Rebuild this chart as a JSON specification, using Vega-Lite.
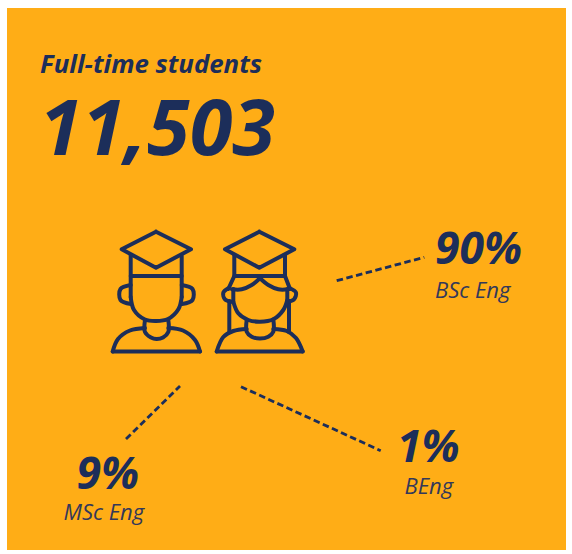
{
"$schema":"https://vega.github.io/schema/vega-lite/v6.json",
"width":572,"height":554,"padding":0,
"autosize":{"type":"fit","contains":"padding"},
"background":"#ffffff",
"config":{"view":{"stroke":null}},
"datasets":{
"panel":[{"x0":7,"x1":566,"y0":8,"y1":550}],
"straight":[
{"g":"m-cap","x":156,"y":231.7},{"g":"m-cap","x":191,"y":249.3},{"g":"m-cap","x":156,"y":267.7},{"g":"m-cap","x":121.7,"y":249.3},{"g":"m-cap","x":156,"y":231.7},
{"g":"m-l","x":130.7,"y":255},{"g":"m-l","x":130.7,"y":297},
{"g":"m-r","x":181.7,"y":256},{"g":"m-r","x":181.7,"y":297},
{"g":"m-band","x":130.7,"y":276},{"g":"m-band","x":181.7,"y":276},
{"g":"m-base","x":112.7,"y":351.5},{"g":"m-base","x":200,"y":351.5},
{"g":"w-cap","x":259.3,"y":231.7},{"g":"w-cap","x":294.3,"y":249.3},{"g":"w-cap","x":259.3,"y":267.7},{"g":"w-cap","x":225,"y":249.3},{"g":"w-cap","x":259.3,"y":231.7},
{"g":"w-l","x":234.3,"y":255},{"g":"w-l","x":234.3,"y":276},{"g":"w-l","x":228.3,"y":289},
{"g":"w-r","x":285,"y":255},{"g":"w-r","x":285,"y":276},{"g":"w-r","x":290,"y":289},
{"g":"w-band","x":234.3,"y":276},{"g":"w-band","x":285,"y":276},
{"g":"w-sl","x":229.3,"y":301},{"g":"w-sl","x":229.3,"y":332},
{"g":"w-sr","x":289,"y":301},{"g":"w-sr","x":289,"y":332},
{"g":"w-fl","x":233.3,"y":289},{"g":"w-fl","x":233.3,"y":302},
{"g":"w-fr","x":287.3,"y":289},{"g":"w-fr","x":287.3,"y":300},
{"g":"w-base","x":216.7,"y":351.5},{"g":"w-base","x":302.7,"y":351.5}
],
"curved":[
{"g":"m-face","x":130.7,"y":297},{"g":"m-face","x":134,"y":310},{"g":"m-face","x":145,"y":319.5},{"g":"m-face","x":156,"y":321},{"g":"m-face","x":168,"y":319},{"g":"m-face","x":178.5,"y":309},{"g":"m-face","x":181.7,"y":297},
{"g":"m-el","x":130.7,"y":285},{"g":"m-el","x":120.5,"y":289},{"g":"m-el","x":120.5,"y":300},{"g":"m-el","x":131,"y":304},
{"g":"m-er","x":181.7,"y":285},{"g":"m-er","x":192.5,"y":289},{"g":"m-er","x":192.5,"y":300},{"g":"m-er","x":182,"y":304},
{"g":"m-neck","x":145,"y":320},{"g":"m-neck","x":145,"y":332},{"g":"m-neck","x":151,"y":337.5},{"g":"m-neck","x":156.5,"y":339},{"g":"m-neck","x":163,"y":337.5},{"g":"m-neck","x":168.3,"y":332},{"g":"m-neck","x":168.3,"y":320},
{"g":"m-sl","x":145,"y":328},{"g":"m-sl","x":130,"y":330.5},{"g":"m-sl","x":118,"y":339},{"g":"m-sl","x":112.7,"y":351.5},
{"g":"m-sr","x":168.3,"y":328},{"g":"m-sr","x":183,"y":330.5},{"g":"m-sr","x":195,"y":340},{"g":"m-sr","x":200,"y":351.5},
{"g":"w-hl","x":260,"y":278.3},{"g":"w-hl","x":251.7,"y":285},{"g":"w-hl","x":241.7,"y":289.3},{"g":"w-hl","x":232,"y":289.3},
{"g":"w-hr","x":260,"y":278.3},{"g":"w-hr","x":268.3,"y":285},{"g":"w-hr","x":278.3,"y":289.3},{"g":"w-hr","x":288.3,"y":289.3},
{"g":"w-el","x":228.3,"y":288.3},{"g":"w-el","x":223.3,"y":292.7},{"g":"w-el","x":225,"y":299.3},{"g":"w-el","x":231.7,"y":301.7},
{"g":"w-er","x":290,"y":288.3},{"g":"w-er","x":296,"y":292.7},{"g":"w-er","x":294,"y":299.3},{"g":"w-er","x":287.3,"y":301.7},
{"g":"w-face","x":233.3,"y":301.7},{"g":"w-face","x":238.3,"y":313.3},{"g":"w-face","x":248.3,"y":320},{"g":"w-face","x":260,"y":321.7},{"g":"w-face","x":273.3,"y":319.3},{"g":"w-face","x":283.3,"y":310},{"g":"w-face","x":287.3,"y":300},
{"g":"w-neck","x":246.7,"y":320},{"g":"w-neck","x":246.7,"y":331.7},{"g":"w-neck","x":251.7,"y":336.7},{"g":"w-neck","x":260,"y":338.5},{"g":"w-neck","x":268.3,"y":336.7},{"g":"w-neck","x":273.3,"y":331.7},{"g":"w-neck","x":273.3,"y":319.5},
{"g":"w-sl","x":246.7,"y":329},{"g":"w-sl","x":233.3,"y":331},{"g":"w-sl","x":223.3,"y":337},{"g":"w-sl","x":216.7,"y":351.5},
{"g":"w-sr","x":273.3,"y":329},{"g":"w-sr","x":286.7,"y":331},{"g":"w-sr","x":296,"y":338},{"g":"w-sr","x":302.7,"y":351.5}
],
"dashes":[
{"g":"BSc Eng","x":336.7,"y":280.7},{"g":"BSc Eng","x":424.3,"y":257.3},
{"g":"MSc Eng","x":126,"y":439},{"g":"MSc Eng","x":180,"y":386},
{"g":"BEng","x":241,"y":386.7},{"g":"BEng","x":380.7,"y":450.7}
],
"title":[{"t":"Full-time students","x":40,"y":73}],
"total":[{"t":"11,503","x":39.5,"y":155}],
"shares":[{"t":"90%","x":435,"y":264},{"t":"9%","x":76.5,"y":488.5},{"t":"1%","x":397,"y":461.5}],
"programmes":[{"t":"BSc Eng","x":435,"y":298},{"t":"MSc Eng","x":63.5,"y":520},{"t":"BEng","x":404.5,"y":494}]
},
"encoding":{
"x":{"field":"x","type":"quantitative","scale":{"domain":[0,572],"nice":false,"zero":false},"axis":null},
"y":{"field":"y","type":"quantitative","scale":{"domain":[554,0],"nice":false,"zero":false},"axis":null}
},
"layer":[
{"data":{"name":"panel"},"mark":{"type":"rect","color":"#ffad16"},
"encoding":{"x":{"field":"x0","type":"quantitative","scale":{"domain":[0,572],"nice":false,"zero":false},"axis":null},"x2":{"field":"x1"},"y":{"field":"y0","type":"quantitative","scale":{"domain":[554,0],"nice":false,"zero":false},"axis":null},"y2":{"field":"y1"}}},
{"data":{"name":"straight"},"mark":{"type":"line","color":"#1c2e5a","strokeWidth":4,"strokeCap":"round","strokeJoin":"round"},"encoding":{"detail":{"field":"g"},"order":{"value":null}}},
{"data":{"name":"curved"},"mark":{"type":"line","color":"#1c2e5a","strokeWidth":4,"strokeCap":"round","strokeJoin":"round","interpolate":"catmull-rom"},"encoding":{"detail":{"field":"g"},"order":{"value":null}}},
{"data":{"name":"dashes"},"mark":{"type":"line","color":"#1c2e5a","strokeWidth":2.8,"strokeDash":[6.5,3.5]},"encoding":{"detail":{"field":"g"},"order":{"value":null}}},
{"data":{"name":"title"},"mark":{"type":"text","font":"Open Sans","fontWeight":"bold","fontStyle":"italic","fontSize":25.8,"color":"#1c2e5a","align":"left","baseline":"alphabetic"},"encoding":{"text":{"field":"t"}}},
{"data":{"name":"total"},"mark":{"type":"text","font":"Open Sans","fontWeight":"bold","fontStyle":"italic","fontSize":77.5,"color":"#1c2e5a","align":"left","baseline":"alphabetic"},"encoding":{"text":{"field":"t"}}},
{"data":{"name":"shares"},"mark":{"type":"text","font":"Open Sans","fontWeight":"bold","fontStyle":"italic","fontSize":44.5,"color":"#1c2e5a","align":"left","baseline":"alphabetic"},"encoding":{"text":{"field":"t"}}},
{"data":{"name":"programmes"},"mark":{"type":"text","font":"Open Sans","fontStyle":"italic","fontSize":22,"color":"#33385a","align":"left","baseline":"alphabetic"},"encoding":{"text":{"field":"t"}}}
]
}
